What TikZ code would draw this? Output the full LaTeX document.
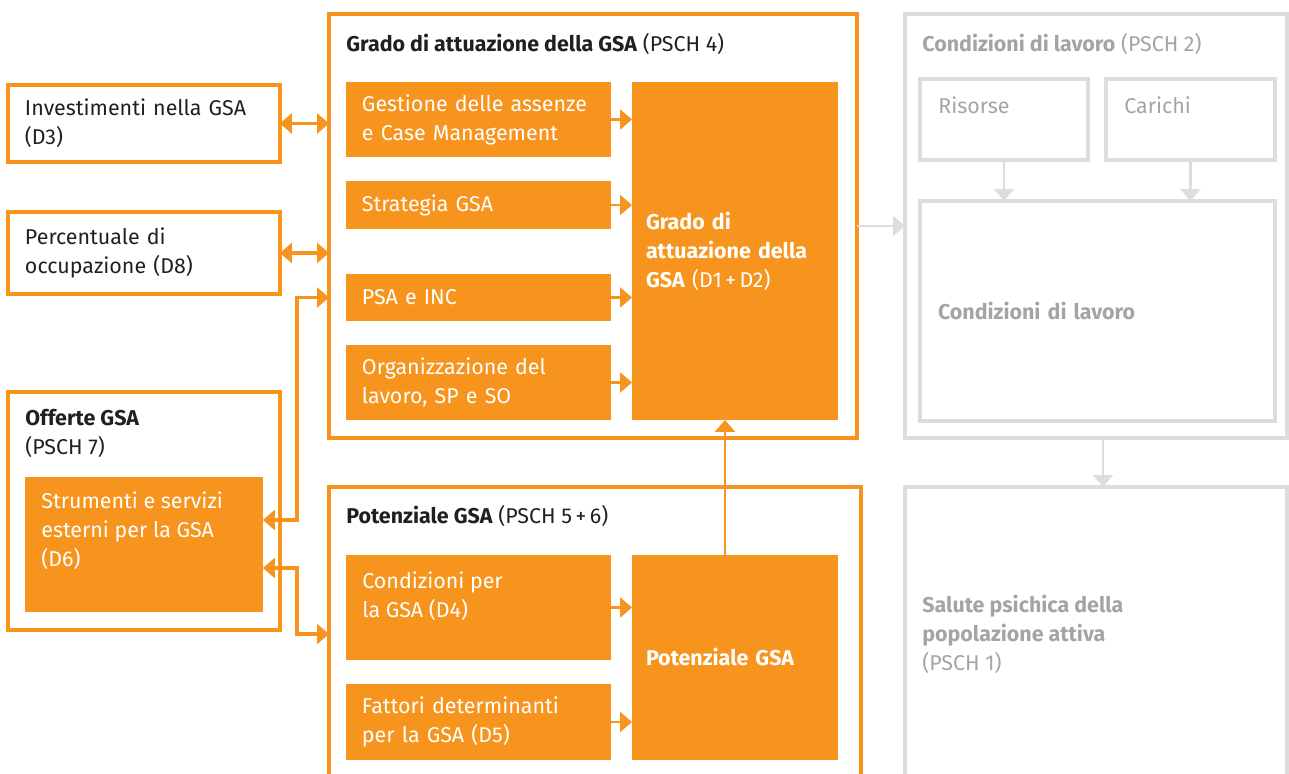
\documentclass[tikz,border=0pt]{standalone}
\usepackage{fontspec}
\setmainfont{Fira Sans}
\usetikzlibrary{arrows.meta}
\definecolor{gsaorange}{HTML}{F7941D}
\definecolor{gsagray}{HTML}{DCDDDE}
\definecolor{gsagraytext}{HTML}{A2A4A7}
\definecolor{gsatext}{HTML}{231F20}

\begin{document}
\begin{tikzpicture}[x=0.02cm, y=-0.02cm,
        font=\fontsize{12.2}{16.5}\selectfont,
        obox/.style = {draw=gsaorange, line width=0.075cm, outer sep=0pt, inner sep=0pt, anchor=north west},
        gbox/.style = {draw=gsagray, line width=0.08cm, outer sep=0pt, inner sep=0pt, anchor=north west},
        fbox/.style = {fill=gsaorange, text=white, outer sep=0pt, inner xsep=0.32cm, align=left, anchor=north west},
        tbox/.style = {draw=gsaorange, line width=0.075cm, text=gsatext, outer sep=0pt, inner xsep=0.34cm, align=left, anchor=north west},
        txt/.style = {inner sep=0pt, align=left, anchor=north west},
        conn/.style = {gsaorange, line width=0.07cm, -{Triangle[length=0.24cm, width=0.4cm]}},
        dconn/.style = {gsaorange, line width=0.07cm, {Triangle[length=0.24cm, width=0.4cm]}-{Triangle[length=0.24cm, width=0.4cm]}},
        iconn/.style = {gsaorange, line width=0.05cm, -{Triangle[length=0.24cm, width=0.4cm]}},
        gconn/.style = {gsagray, line width=0.05cm, -{Triangle[length=0.24cm, width=0.4cm]}}
    ]
        \useasboundingbox (0,0) rectangle (1289,774);

        % outer frames
        \node[obox, minimum width=10.56cm, minimum height=8.48cm] (gradobox) at (329,14) {};
        \node[obox, minimum width=10.64cm, minimum height=6.26cm] (potbox) at (329,487) {};
        \node[gbox, minimum width=7.64cm, minimum height=8.48cm] (condbox) at (905,14) {};
        \node[gbox, minimum width=7.64cm, minimum height=6.26cm] (salute) at (905,487) {};

        % left column
        \node[tbox, minimum width=5.44cm, minimum height=1.54cm, text width=4.76cm] (inv) at (8,85) {Investimenti nella GSA\\(D3)};
        \node[tbox, minimum width=5.44cm, minimum height=1.64cm, text width=4.76cm] (perc) at (8,212) {Percentuale di\\occupazione (D8)};
        \node[obox, minimum width=5.44cm, minimum height=4.76cm] (off) at (8,392) {};
        \node[fill=gsaorange, outer sep=0pt, anchor=north west, minimum width=4.76cm, minimum height=2.7cm] (strum) at (25,477) {};
        \node[txt, text=gsatext] (offtxt) at (25,409) {\textbf{Offerte GSA}\\(PSCH 7)};
        \node[txt, text=white] (strumtxt) at (41,491) {Strumenti e servizi\\esterni per la GSA\\(D6)};

        % grado di attuazione
        \node[txt, text=gsatext] (gradotxt) at (346,33) {\textbf{Grado di attuazione della GSA} (PSCH 4)};
        \node[fbox, minimum width=5.3cm, minimum height=1.5cm, text width=4.66cm] (gest) at (346,82) {Gestione delle assenze\\e Case Management};
        \node[fbox, minimum width=5.3cm, minimum height=0.96cm, text width=4.66cm] (strat) at (346,181) {Strategia GSA};
        \node[fbox, minimum width=5.3cm, minimum height=0.94cm, text width=4.66cm] (psa) at (346,274) {PSA e INC};
        \node[fbox, minimum width=5.3cm, minimum height=1.5cm, text width=4.66cm] (org) at (346,345) {Organizzazione del\\lavoro, SP e SO};
        \node[fbox, minimum width=4.12cm, minimum height=6.76cm, text width=3.56cm, inner xsep=0.28cm] (gradoin) at (632,82) {\textbf{Grado di}\\\textbf{attuazione della}\\\textbf{GSA} (D1\,+\,D2)};

        % potenziale
        \node[txt, text=gsatext] (pottxt) at (346,505) {\textbf{Potenziale GSA} (PSCH 5\,+\,6)};
        \node[fill=gsaorange, outer sep=0pt, anchor=north west, minimum width=5.3cm, minimum height=2.1cm] (cond) at (346,555) {};
        \node[txt, text=white] (condtxt) at (362,571) {Condizioni per\\la GSA (D4)};
        \node[fbox, minimum width=5.3cm, minimum height=1.52cm, text width=4.66cm] (fatt) at (346,684) {Fattori determinanti\\per la GSA (D5)};
        \node[fbox, minimum width=4.12cm, minimum height=4.1cm, text width=3.56cm, inner xsep=0.28cm] (potin) at (632,555) {\textbf{Potenziale GSA}};

        % condizioni di lavoro
        \node[txt, text=gsagraytext] (condlavtxt) at (922,33) {\textbf{Condizioni di lavoro} (PSCH 2)};
        \node[gbox, minimum width=3.36cm, minimum height=1.62cm] (ris) at (920,79) {};
        \node[gbox, minimum width=3.38cm, minimum height=1.62cm] (car) at (1106,79) {};
        \node[txt, text=gsagraytext] (ristxt) at (938,96) {Risorse};
        \node[txt, text=gsagraytext] (cartxt) at (1124,96) {Carichi};
        \node[gbox, minimum width=7.1cm, minimum height=4.4cm, text=gsagraytext, align=left, inner xsep=0.36cm, text width=6.38cm] (lav) at (920,201) {\textbf{Condizioni di lavoro}};
        \node[txt, text=gsagraytext] (salutetxt) at (922,595) {\textbf{Salute psichica della}\\\textbf{popolazione attiva}\\(PSCH 1)};

        % connectors
        \coordinate (b1) at (297,520);
        \coordinate (b2) at (297,568);
        \coordinate (b3) at (297,634);
        \draw[dconn] (inv.east) -- (inv.east -| gradobox.west);
        \draw[dconn] (perc.east) -- (perc.east -| gradobox.west);
        \draw[dconn] (b1 -| strum.east) -- (b1) |- (psa.west -| gradobox.west);
        \draw[dconn] (b2 -| strum.east) -- (b2) -- (b3) -- (b3 -| potbox.west);
        \foreach \n in {gest,strat,psa,org}
            \draw[iconn] (\n.east) -- (\n.east -| gradoin.west);
        \foreach \n in {cond,fatt}
            \draw[iconn] (\n.east) -- (\n.east -| potin.west);
        \draw[iconn] ([xshift=-0.2cm]potin.north) -- ([xshift=-0.2cm]gradoin.south);
        \draw[gconn] (gradobox.east) -- (condbox.west);
        \draw[gconn] (ris.south) -- (ris.south |- lav.north);
        \draw[gconn] (car.south) -- (car.south |- lav.north);
        \draw[gconn] ([xshift=0.14cm]condbox.south) -- ([xshift=0.14cm]salute.north);
    \end{tikzpicture}
\end{document}
